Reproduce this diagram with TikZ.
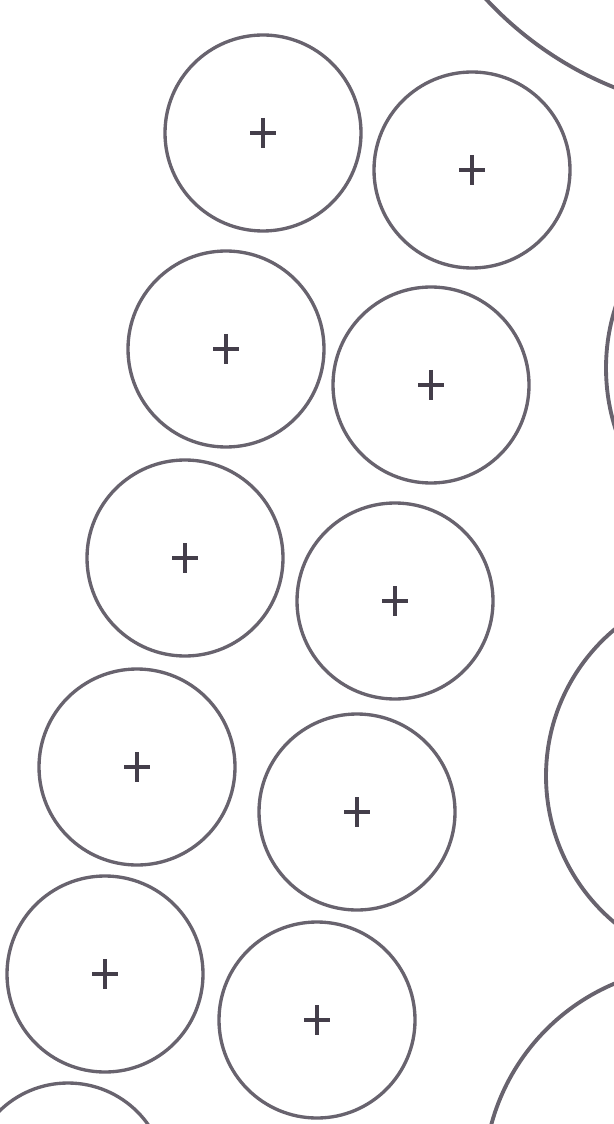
\documentclass[tikz,border=0pt]{standalone}
\definecolor{inkgray}{RGB}{104,99,110}
\definecolor{crossgray}{RGB}{68,62,74}
\tikzset{
  ion/.pic={
    \tikzset{/ion/.cd,#1}
    \draw[pic actions] (0,0) circle (\ionsize);
    \draw[crossgray,line width=2.2pt] (-13,0) -- (13,0) (0,-15) -- (0,15);
  },
  /ion/.search also={/tikz},
  /ion/.cd,
  size/.store in=\ionsize, size=98,
}

\begin{document}
\begin{tikzpicture}[x=0.02cm,y=-0.02cm,line width=1.9pt,inkgray]
  \useasboundingbox (0,0) rectangle (614,1124);
  \clip (0,0) rectangle (614,1124);
  % big neighbours, cut by the frame
  \draw[line width=2.2pt] (747,-243) circle (356);
  \draw[line width=2.2pt] (806,368) circle (200);
  \draw[line width=2.2pt] (737,776) circle (191);
  \draw[line width=2.2pt] (697,1180) circle (213);
  % small ions
  \pic at (263,133) {ion};
  \pic at (472,170) {ion};
  \pic at (226,349) {ion};
  \pic at (431,385) {ion};
  \pic at (185,558) {ion};
  \pic at (395,601) {ion};
  \pic at (137,767) {ion};
  \pic at (357,812) {ion};
  \pic at (105,974) {ion};
  \pic at (317,1020) {ion};
  \pic at (68,1181) {ion};
\end{tikzpicture}
\end{document}
